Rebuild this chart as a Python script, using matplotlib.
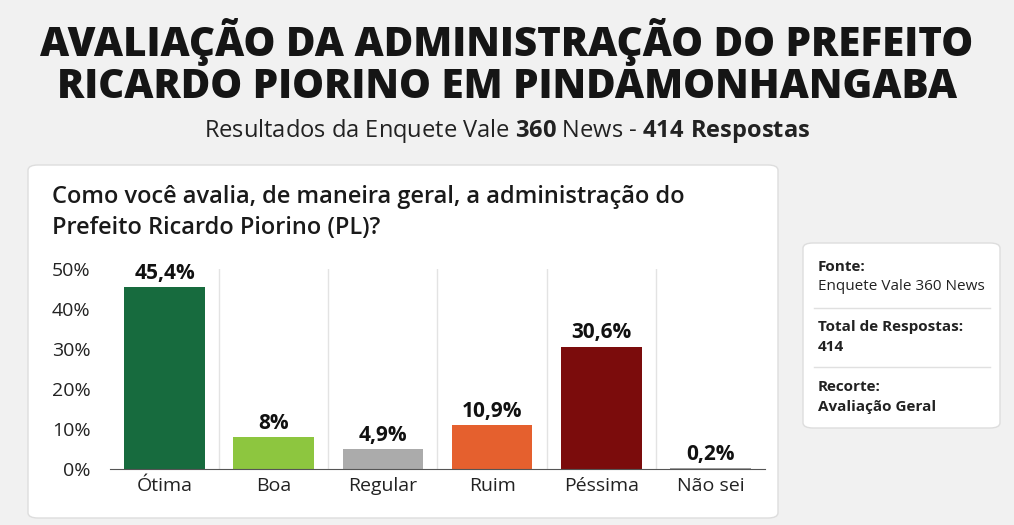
import matplotlib
matplotlib.use("Agg")
import matplotlib.pyplot as plt
from matplotlib.patches import FancyBboxPatch

categories = ["Ótima", "Boa", "Regular", "Ruim", "Péssima", "Não sei"]
values = [45.4, 8, 4.9, 10.9, 30.6, 0.2]
labels = ["45,4%", "8%", "4,9%", "10,9%", "30,6%", "0,2%"]
colors = ["#176b3e", "#8dc63f", "#ababab", "#e5602e", "#7b0c0c", "#a0a0a0"]
yticks = [0, 10, 20, 30, 40, 50]

plt.rcParams['font.family'] = ['Open Sans', 'DejaVu Sans']
plt.rcParams['mathtext.fontset'] = 'custom'
plt.rcParams['mathtext.rm'] = 'Open Sans'
plt.rcParams['mathtext.bf'] = 'Open Sans:bold'
W, H = 1014, 525
fig = plt.figure(figsize=(W/100, H/100), dpi=100)
fig.patch.set_facecolor("#f1f1f1")

def px(x, y):
    return x / W, 1 - y / H

fig.text(*px(507, 42), "AVALIAÇÃO DA ADMINISTRAÇÃO DO PREFEITO", ha="center", va="center",
         fontsize=29, fontweight="heavy", color="#151515")
fig.text(*px(507, 88), "RICARDO PIORINO EM PINDAMONHANGABA", ha="center", va="center",
         fontsize=29, fontweight="heavy", color="#151515")
fig.text(*px(507, 131), "Resultados da Enquete Vale $\\bf{360}$ News - $\\bf{414\\ Respostas}$",
         ha="center", va="center", fontsize=17, color="#222222")

for (x0, y0, x1, y1) in [(28, 165, 778, 518), (803, 243, 1000, 428)]:
    bx, by = px(x0, y1)
    card = FancyBboxPatch((bx, by), (x1 - x0) / W, (y1 - y0) / H,
                          boxstyle="round,pad=0,rounding_size=0.01",
                          transform=fig.transFigure, facecolor="white",
                          edgecolor="#dddddd", linewidth=1, zorder=0)
    fig.patches.append(card)

fig.text(*px(52, 197), "Como você avalia, de maneira geral, a administração do",
         ha="left", va="center", fontsize=17, fontweight="semibold", color="#1a1a1a")
fig.text(*px(52, 228), "Prefeito Ricardo Piorino (PL)?",
         ha="left", va="center", fontsize=17, fontweight="semibold", color="#1a1a1a")

side = [(267, "Fonte:", True), (287, "Enquete Vale 360 News", False),
        (327, "Total de Respostas:", True), (347, "414", True),
        (387, "Recorte:", True), (407, "Avaliação Geral", True)]
for y, t, b in side:
    fig.text(*px(818, y), t, ha="left", va="center", fontsize=11,
             fontweight="bold" if b else "normal", color="#222222")
for y in (308, 367):
    fig.add_artist(plt.Line2D([814/W, 990/W], [1 - y/H]*2, color="#e0e0e0", lw=1,
                              transform=fig.transFigure))

ax = fig.add_axes([110/W, 1 - 469/H, 655/W, 200/H])
ax.set_zorder(5)
ax.set_facecolor("none")
x = list(range(len(categories)))
ax.bar(x, values, width=0.74, color=colors, zorder=2)
for xi, v, l in zip(x, values, labels):
    ax.text(xi, v + 0.8, l, ha="center", va="bottom", fontsize=15,
            fontweight="bold", color="#111111")
ax.set_xlim(-0.5, 5.5)
ax.set_ylim(0, 50)
for xs in [0.5, 1.5, 2.5, 3.5, 4.5]:
    ax.axvline(xs, color="#e3e3e3", lw=1, zorder=1)
ax.set_yticks(yticks)
ax.set_yticklabels([f"{t}%" for t in yticks], fontsize=14, color="#222222")
ax.set_xticks(x)
ax.set_xticklabels(categories, fontsize=14, color="#222222")
for s in ["top", "right", "left"]:
    ax.spines[s].set_visible(False)
ax.spines["bottom"].set_color("#555555")
ax.tick_params(length=0, pad=6)
ax.tick_params(axis="y", pad=14)

fig.savefig("out.png", dpi=100, facecolor=fig.get_facecolor())
